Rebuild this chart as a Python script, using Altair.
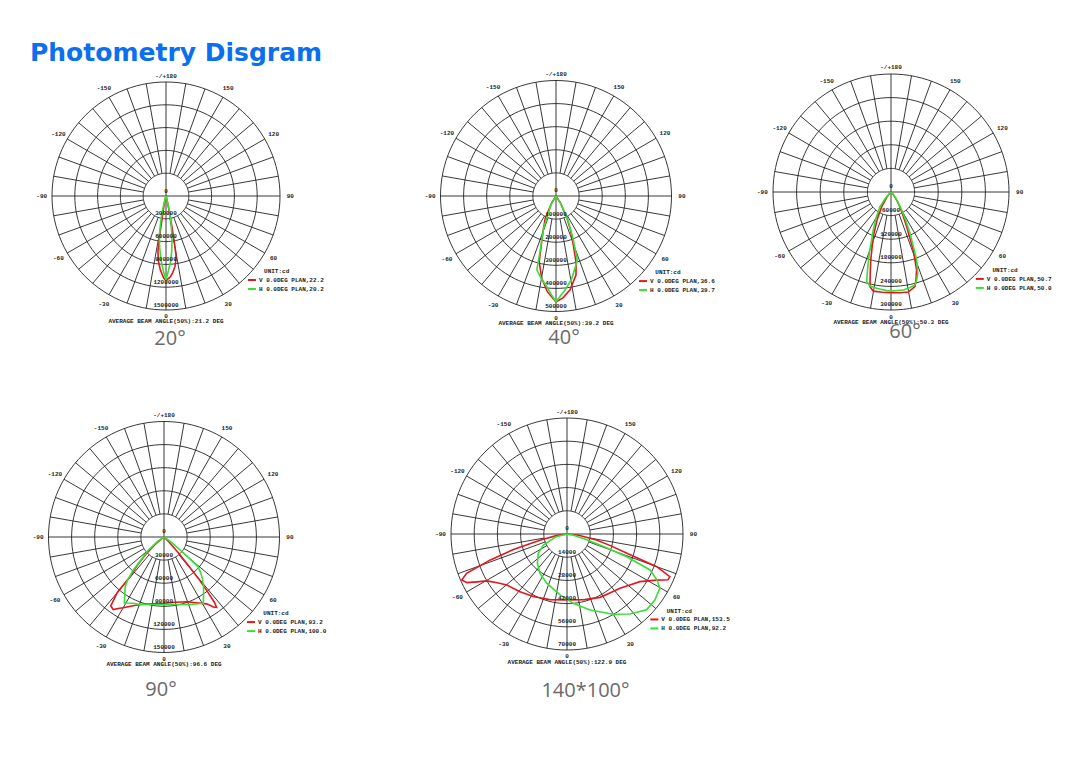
import altair as alt
import pandas as pd

# ---------------- data ----------------
TITLE = "Photometry Disgram"
UNIT = "UNIT:cd"
ANGLE_LABEL_DEG = [-150, -120, -90, -60, -30, 0, 30, 60, 90, 120, 150, 180]
ANGLE_LABEL_TXT = ["-150", "-120", "-90", "-60", "-30", "0", "30", "60", "90", "120", "150", "-/+180"]

# Panel 1 : 20°
P1_STEP = 300000
P1_RINGS = ["0", "300000", "600000", "900000", "1200000", "1500000"]
P1_V_ANG = [-90, -20, -14, -11, -10, -9, -8.4, -6.9, -4.4, -1.6, 0, 3, 5, 7.3, 8.5, 9.6, 10.3, 11, 12, 14, 20, 90]
P1_V_CD = [0, 13000, 66000, 184000, 289000, 553000, 724000, 849000, 974000, 1079000, 1112000,
           1066000, 1013000, 934000, 868000, 789000, 592000, 395000, 197000, 66000, 13000, 0]
P1_H_ANG = [-90, -18, -16, -13.5, -11, -9.3, -7, -4.5, -2, 0, 2, 4, 6, 8.4, 10.5, 12.5, 15, 17, 90]
P1_H_CD = [0, 0, 66000, 224000, 395000, 540000, 684000, 842000, 987000, 1105000, 974000, 868000,
           724000, 540000, 368000, 224000, 66000, 0, 0]
P1_V_LAB = "V 0.0DEG PLAN,22.2"
P1_H_LAB = "H 0.0DEG PLAN,20.2"
P1_AVG = "AVERAGE BEAM ANGLE(50%):21.2 DEG"
P1_NAME = "20°"

# Panel 2 : 40°
P2_STEP = 100000
P2_RINGS = ["0", "100000", "200000", "300000", "400000", "500000"]
P2_V_ANG = [-45, -32, -25.6, -20, -17.4, -14.3, -9.9, -5.2, 0, 3.9, 8.5, 14.2, 16.9, 20.1, 23, 26.3, 33, 45]
P2_V_CD = [0, 35000, 108000, 165000, 208000, 294000, 361000, 416000, 459000, 442000, 411000,
           353000, 299000, 212000, 160000, 108000, 35000, 0]
P2_H_ANG = [-45, -30, -20.9, -16, -14.6, -10, -5.9, -3, 0, 3, 5.5, 10.8, 15, 18.4, 22, 25.6, 32, 45]
P2_H_CD = [0, 43000, 152000, 251000, 329000, 364000, 394000, 424000, 458000, 429000, 409000,
           364000, 320000, 292000, 195000, 123000, 43000, 0]
P2_V_LAB = "V 0.0DEG PLAN,36.6"
P2_H_LAB = "H 0.0DEG PLAN,39.7"
P2_AVG = "AVERAGE BEAM ANGLE(50%):39.2 DEG"
P2_NAME = "40°"

# Panel 3 : 60°
P3_STEP = 60000
P3_RINGS = ["0", "60000", "120000", "180000", "240000", "300000"]
P3_V_ANG = [-50, -40, -32.4, -27, -22.4, -19, -16.6, -14, -12.5, -10.1, -5, 0, 5, 9.8, 14.2, 16,
            18.2, 21, 24.3, 28, 33, 42, 50]
P3_V_CD = [0, 15000, 44000, 76000, 114000, 147000, 180000, 219000, 247000, 256000, 256000, 256000,
           257000, 258000, 248000, 231000, 208000, 158000, 97000, 61000, 34000, 10000, 0]
P3_H_ANG = [-50, -42, -36.8, -30, -25, -19.5, -17, -15.2, -12.6, -8, -2.5, 0, 7.2, 11, 14.5, 16.5,
            18.2, 20.7, 22.5, 24.7, 27.5, 30.7, 38, 46]
P3_H_CD = [0, 20000, 47000, 76000, 107000, 165000, 203000, 236000, 245000, 248000, 251000, 252000,
           251000, 248000, 244000, 231000, 218000, 185000, 147000, 116000, 81000, 53000, 20000, 0]
P3_V_LAB = "V 0.0DEG PLAN,50.7"
P3_H_LAB = "H 0.0DEG PLAN,50.0"
P3_AVG = "AVERAGE BEAM ANGLE(50%):50.3 DEG"
P3_NAME = "60°"

# Panel 4 : 90°
P4_STEP = 30000
P4_RINGS = ["0", "30000", "60000", "90000", "120000", "150000"]
P4_V_ANG = [-60, -50, -46.7, -43.5, -40.6, -40, -37.7, -35, -32, -30, -25, -19.6, -10, 0, 10, 19.3,
            26, 32.5, 35.5, 36.8, 37.7, 38.5, 39.5, 40.5, 42, 45, 52]
P4_V_CD = [0, 16000, 31000, 49000, 68000, 95000, 113000, 115000, 109000, 106000, 99000, 93000,
           88000, 86000, 86000, 89000, 95000, 103000, 112000, 114000, 107000, 91000, 73000, 49000,
           29000, 10000, 0]
P4_H_ANG = [-62, -55, -50, -46, -43, -40, -38, -34, -31, -25, -19.6, -10, 0, 10, 21, 30.7, 34.4,
            38.8, 43, 46, 49, 51, 55, 62]
P4_H_CD = [0, 10000, 26000, 38000, 58000, 74000, 82000, 91000, 100000, 95000, 93000, 89000, 88000,
           89000, 94000, 100000, 91000, 82000, 73000, 66000, 58000, 31000, 10000, 0]
P4_V_LAB = "V 0.0DEG PLAN,93.2"
P4_H_LAB = "H 0.0DEG PLAN,100.0"
P4_AVG = "AVERAGE BEAM ANGLE(50%):96.6 DEG"
P4_NAME = "90°"

# Panel 5 : 140*100°
P5_STEP = 14000
P5_RINGS = ["0", "14000", "28000", "42000", "56000", "70000"]
P5_V_ANG = [-90, -82, -77.3, -74, -71.3, -68.6, -66.4, -64.1, -62, -59.7, -55, -49.8, -39.2, -28.3,
            -15, 0, 15, 27.5, 36, 44.3, 51, 56.8, 62.8, 65.6, 67.5, 70, 72.1, 75, 78.6, 84, 90]
P5_V_CD = [0, 6000, 16300, 33200, 48800, 65100, 69300, 67200, 61500, 56100, 51300, 47600, 44900,
           42900, 41000, 39800, 41000, 43100, 44000, 45800, 48800, 52500, 60900, 66900, 67200,
           57600, 38000, 27100, 18100, 7200, 0]
P5_H_ANG = [-85, -75, -65, -56, -45.4, -34.5, -22.4, -6.5, 5.2, 16.8, 30, 38.2, 46.4, 53.1, 59.7,
            63, 66.6, 69.2, 71, 74, 80, 88]
P5_H_CD = [0, 7200, 15700, 20900, 25100, 28800, 32100, 37000, 42000, 47900, 55900, 61400, 66300,
           66300, 64900, 60900, 54600, 38600, 24100, 12100, 3000, 0]
P5_V_LAB = "V 0.0DEG PLAN,153.5"
P5_H_LAB = "H 0.0DEG PLAN,92.2"
P5_AVG = "AVERAGE BEAM ANGLE(50%):122.9 DEG"
P5_NAME = "140*100°"

# ---------------- styling / layout ----------------
GRID = "#222222"
TXT = "#222222"
RED = "#e3161d"
GREEN = "#35e035"
BLUE = "#0b6ff0"
GRAY = "#6a6a6a"
MONO = "Liberation Mono"

# w,h: panel size px; cx,cy: polar centre inside panel; s: px per ring; name offset px
LAYOUT = [
    dict(w=352, h=362, cx=158, cy=188, s=22.8, ndx=4, ndy=143),
    dict(w=380, h=362, cx=196, cy=188, s=23.1, ndx=8, ndy=142),
    dict(w=330, h=362, cx=151, cy=184, s=23.6, ndx=14, ndy=139.5),
    dict(w=352, h=370, cx=156, cy=167, s=23.1, ndx=-3, ndy=153),
    dict(w=440, h=370, cx=207, cy=164, s=23.2, ndx=18.5, ndy=156.5),
]

PANELS = [
    (P1_STEP, P1_RINGS, P1_V_ANG, P1_V_CD, P1_H_ANG, P1_H_CD, P1_V_LAB, P1_H_LAB, P1_AVG, P1_NAME),
    (P2_STEP, P2_RINGS, P2_V_ANG, P2_V_CD, P2_H_ANG, P2_H_CD, P2_V_LAB, P2_H_LAB, P2_AVG, P2_NAME),
    (P3_STEP, P3_RINGS, P3_V_ANG, P3_V_CD, P3_H_ANG, P3_H_CD, P3_V_LAB, P3_H_LAB, P3_AVG, P3_NAME),
    (P4_STEP, P4_RINGS, P4_V_ANG, P4_V_CD, P4_H_ANG, P4_H_CD, P4_V_LAB, P4_H_LAB, P4_AVG, P4_NAME),
    (P5_STEP, P5_RINGS, P5_V_ANG, P5_V_CD, P5_H_ANG, P5_H_CD, P5_V_LAB, P5_H_LAB, P5_AVG, P5_NAME),
]

SIN = "sin(datum.a * PI / 180)"
COS = "cos(datum.a * PI / 180)"


def panel(spec, lay, with_title=False):
    step, ring_labels, v_ang, v_cd, h_ang, h_cd, v_lab, h_lab, avg, name = spec
    s, W, H, cx, cy = lay["s"], lay["w"], lay["h"], lay["cx"], lay["cy"]
    xs = alt.Scale(domain=[-cx / s, (W - cx) / s], nice=False, zero=False)
    ys = alt.Scale(domain=[-(H - cy) / s, cy / s], nice=False, zero=False)

    def XY():
        return dict(x=alt.X("x:Q", scale=xs, axis=None), y=alt.Y("y:Q", scale=ys, axis=None))

    # concentric rings
    rings_df = pd.DataFrame([{"k": k, "a": a} for k in range(1, 6) for a in range(0, 361, 3)])
    rings = alt.Chart(rings_df).transform_calculate(
        x=f"datum.k * {SIN}", y=f"datum.k * {COS}"
    ).mark_line(color=GRID, strokeWidth=0.9).encode(**XY(), detail="k:N", order="a:Q")

    # radial spokes every 10°
    spokes_df = pd.DataFrame({"a": list(range(0, 360, 10))})
    spokes = alt.Chart(spokes_df).transform_calculate(
        r0="datum.a % 90 == 0 ? 0 : 1",
        x=f"datum.r0 * {SIN}", y=f"datum.r0 * {COS}",
        x2=f"5 * {SIN}", y2=f"5 * {COS}",
    ).mark_rule(color=GRID, strokeWidth=0.9).encode(**XY(), x2="x2:Q", y2="y2:Q")

    # intensity curves
    rows = [{"series": v_lab, "i": i, "a": a, "cd": c} for i, (a, c) in enumerate(zip(v_ang, v_cd))]
    rows += [{"series": h_lab, "i": i, "a": a, "cd": c} for i, (a, c) in enumerate(zip(h_ang, h_cd))]
    curves = alt.Chart(pd.DataFrame(rows)).transform_calculate(
        r=f"datum.cd / {step}",
        x=f"datum.r * {SIN}", y=f"-datum.r * {COS}",
    ).mark_line(strokeWidth=1.6).encode(
        **XY(),
        color=alt.Color(
            "series:N",
            scale=alt.Scale(domain=[v_lab, h_lab], range=[RED, GREEN]),
            legend=alt.Legend(
                orient="none", legendX=cx + 3.55 * s, legendY=cy + 3.64 * s - 4,
                title=None, symbolType="stroke", symbolSize=64, symbolStrokeWidth=2,
                labelFont=MONO, labelFontSize=6, labelFontWeight="bold", labelColor=TXT,
                labelOffset=2, rowPadding=0, padding=0, symbolOffset=0,
            ),
        ),
        order="i:Q",
    )

    # ring value labels (and centre 0)
    rl_df = pd.DataFrame({"k": list(range(6)), "label": ring_labels})
    ring_txt = alt.Chart(rl_df).transform_calculate(
        x="0", y="-datum.k + 0.24"
    ).mark_text(font=MONO, fontSize=6, fontWeight="bold", color=TXT).encode(**XY(), text="label:N")

    # angle labels
    al_df = pd.DataFrame({"a": ANGLE_LABEL_DEG, "label": ANGLE_LABEL_TXT})
    ang_txt = alt.Chart(al_df).transform_calculate(
        rr="datum.a % 180 == 0 ? 5.28 : 5.45",
        x=f"datum.rr * {SIN}", y=f"-datum.rr * {COS}",
    ).mark_text(font=MONO, fontSize=6, fontWeight="bold", color=TXT).encode(**XY(), text="label:N")

    def single(text, x, y, **mk):
        return alt.Chart(pd.DataFrame({"t": [text]})).transform_calculate(
            x=str(x), y=str(y)
        ).mark_text(**mk).encode(**XY(), text="t:N")

    avg_txt = single(avg, 0, -5.5, font=MONO, fontSize=6, fontWeight="bold", color=TXT)
    unit_txt = single(UNIT, 4.3, -3.3, font=MONO, fontSize=6, fontWeight="bold", color=TXT,
                      align="left")
    name_txt = single(name, lay["ndx"] / s, -lay["ndy"] / s, font="Open Sans", fontSize=20,
                      color=GRAY)

    layers = [rings, spokes, curves, ring_txt, ang_txt, avg_txt, unit_txt, name_txt]
    if with_title:
        title = alt.Chart(pd.DataFrame({"t": [TITLE]})).mark_text(
            align="left", baseline="alphabetic", font="DejaVu Sans", fontWeight="bold",
            fontSize=25, color=BLUE,
        ).encode(x=alt.value(22), y=alt.value(53), text="t:N")
        layers.append(title)
    return alt.layer(*layers).properties(width=W, height=H)


p = [panel(PANELS[i], LAYOUT[i], with_title=(i == 0)) for i in range(5)]

row1 = alt.hconcat(p[0], p[1], p[2], spacing=0).resolve_scale(
    x="independent", y="independent", color="independent")
row2 = alt.hconcat(p[3], p[4], spacing=0).resolve_scale(
    x="independent", y="independent", color="independent")

chart = alt.vconcat(row1, row2, spacing=0).resolve_scale(
    x="independent", y="independent", color="independent"
).properties(padding=0, background="white").configure_view(strokeWidth=0)

chart.save("out.html", embed_options={"renderer": "svg", "actions": False})
